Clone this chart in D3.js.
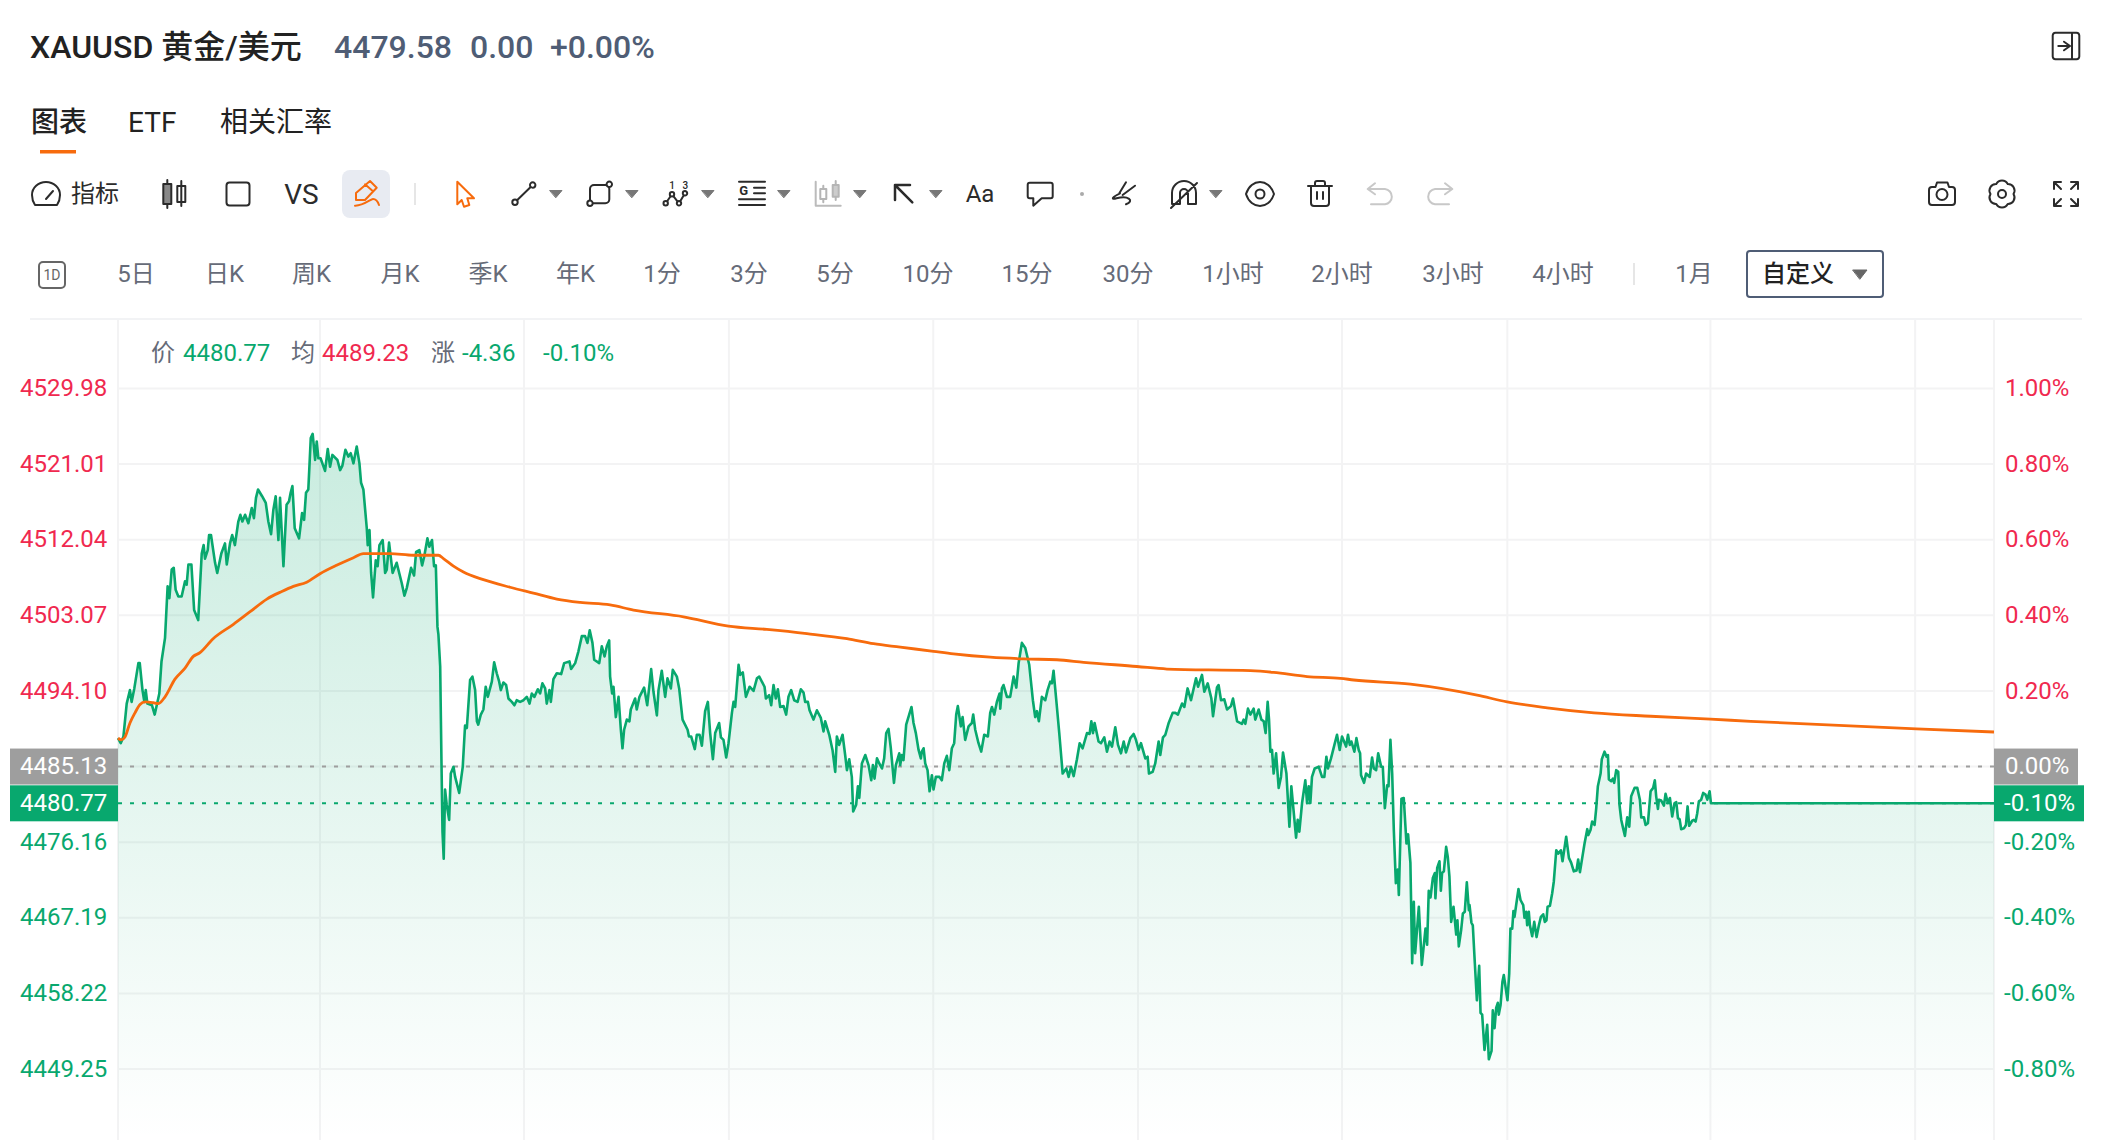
<!DOCTYPE html>
<html>
<head>
<meta charset="utf-8">
<script src="https://cdn.jsdelivr.net/npm/d3@7"></script>
<style>
html, body { margin: 0; padding: 0; background: #fff; }
svg { display: block; }
text { font-family: Roboto, "Noto Sans CJK SC", sans-serif; }
</style>
</head>
<body>
<svg id="chart" width="2112" height="1140"></svg>
<script>
// values
const basePrice = 4485.13
const lastPrice = 4480.77
const priceTicks = [4529.98, 4521.01, 4512.04, 4503.07, 4494.10, 4476.16, 4467.19, 4458.22, 4449.25]
const pctTicks = [1, 0.8, 0.6, 0.4, 0.2, -0.2, -0.4, -0.6, -0.8]
const gridMinutes = [0, 148.6, 298.7, 449.4, 599.7, 750.3, 900.4, 1022, 1171.4, 1322, 1380]

// [minute, price]
const priceTrace = [
  [0,4488.49],[2,4487.9],[4,4488.7],[6.4,4492.6],[8.8,4494.2],[10,4492.8],[12,4494.4],[15,4497.4],[16,4497.4],[18,4494.2],
  [19.4,4492.8],[20.4,4494.2],[21.6,4492.6],[25,4492.4],[27,4491.3],[30.4,4493.8],[32,4497.6],[34.6,4500.4],[36.5,4506.5],[37.8,4505.1],
  [39.5,4508.5],[41,4508.7],[42.4,4506.1],[44.4,4505.3],[46.8,4505.3],[49.3,4507.1],[50.5,4506.7],[51.8,4509.1],[54,4509.1],[56,4503.7],
  [59,4502.5],[61.6,4510.4],[63,4511.4],[64,4509.8],[66,4510.8],[67,4512.6],[68.4,4512.6],[71.4,4509.3],[73,4508.1],[76,4510.4],
  [78.7,4511.6],[80,4509.1],[82.4,4511.6],[84,4512.6],[86,4511.4],[88.5,4514.2],[90,4515],[91.5,4514.2],[93.5,4515],[95.9,4514],
  [98.4,4515.8],[100,4514.6],[101.5,4517],[103,4518],[106,4517.2],[108.7,4516.4],[110.6,4514.2],[112.6,4512.7],[114.3,4515.6],[116,4517.2],
  [118,4512],[119.2,4517],[121.7,4508.9],[124,4516.2],[125.8,4516.6],[127,4517.6],[128.3,4518.4],[130,4513.4],[133.2,4512.2],[135.4,4515.2],
  [136.9,4514.4],[138.3,4517.6],[140,4518],[141.8,4524.1],[143.2,4524.6],[145,4521.5],[146.2,4523.7],[147.4,4521.7],[149,4521.7],[152.3,4520.2],
  [154.3,4522.8],[156,4520.7],[157.7,4522.1],[161.4,4521.5],[163.4,4520.3],[165,4520.8],[167.3,4522.7],[169.5,4521.9],[171.2,4522.3],[173.2,4521.1],
  [175.6,4523.1],[177.6,4521.1],[178.8,4518.8],[180.5,4518],[181.8,4515.6],[183,4513.4],[183.7,4511.4],[185,4513.2],[186.2,4508.1],[187.6,4505.2],
  [189.6,4509.6],[191,4508.9],[192.3,4511.4],[194.7,4512],[196.5,4508.1],[197.7,4508.5],[199.4,4511.7],[202,4508.1],[205,4509.3],[208.7,4506.9],
  [210.7,4505.4],[212.4,4506.3],[215.6,4508.7],[217.8,4507.8],[219.3,4510.6],[221.7,4510.8],[223.7,4509],[225.2,4510],[227.6,4512.2],[229,4511.2],
  [231,4512],[232.5,4508.9],[233.8,4509],[235,4501.7],[235.7,4500.8],[237,4497],[238,4485.1],[238.7,4477.4],[239.6,4474.2],[240.6,4482.4],
  [241.8,4480.6],[243.6,4478.8],[244.8,4484.3],[246.8,4485.1],[248,4483.9],[251,4482],[253.6,4485.1],[255.3,4490],[256.6,4489.7],[259,4495.4],
  [260.7,4495.8],[262.7,4494.2],[264,4490.5],[265,4490.1],[266.9,4491.3],[268.8,4491.9],[270.5,4494.6],[272,4493.4],[275,4495.2],[276.7,4497.5],
  [278.6,4496.2],[280.4,4495.2],[281.6,4494.2],[283.5,4495.1],[285.5,4494.8],[287.2,4493.2],[289.7,4492.8],[291.6,4492.4],[293.3,4493],[295.8,4492.8],
  [298.3,4493],[300.7,4493.4],[302.7,4492.6],[304.4,4493.8],[306.3,4493.4],[308.8,4494.3],[310.5,4493.8],[312.2,4495],[314.2,4494.4],[315.4,4492.6],
  [317.4,4494.2],[318.4,4492.8],[320.3,4495.5],[322.8,4496.2],[326,4496.1],[328.2,4497.4],[332.1,4497.6],[333.3,4496.7],[336.3,4497.4],[338.7,4498.8],
  [341.2,4500.6],[343.6,4500.6],[345.3,4499.8],[347,4501.3],[349,4499.8],[350.3,4497.8],[354,4497.4],[355.9,4499.4],[357.9,4498.2],[359.6,4499.4],
  [361.3,4500.1],[362,4495.8],[363.5,4493.8],[364.5,4494.6],[366.2,4491],[368.2,4493.4],[369.9,4489.5],[371.1,4487.3],[372.3,4489.5],[374.3,4490.7],
  [376.2,4490.5],[377.2,4491.9],[380.4,4493.2],[381.6,4491.9],[383.6,4493.4],[387,4494.5],[389.3,4492.4],[392.2,4496.7],[393.9,4494],[396.4,4491.2],
  [397.6,4494.2],[400,4496.5],[402.5,4493.4],[404.2,4495.6],[406.7,4494.4],[408.1,4496.6],[411.1,4495.8],[412.8,4494.4],[415.3,4490.7],[419,4489.5],
  [420,4488.7],[421.6,4488.7],[424.3,4487.2],[425.8,4488.9],[427.8,4488.9],[429.5,4487.6],[431.9,4491.7],[433.9,4492.8],[435.6,4489.1],[437.6,4486],
  [439.3,4489.1],[442.2,4490.3],[443.5,4488.6],[445.4,4488.3],[447.4,4486.2],[449.1,4487.9],[451.6,4491.5],[452.8,4492.8],[454,4492.2],[456.5,4497.2],
  [457.7,4496],[459.6,4496.3],[461.9,4493.4],[464.6,4494.6],[467.5,4494.1],[470,4495.6],[471.7,4495.8],[475.6,4494.6],[476.6,4493.2],[479,4493.6],
  [480.5,4492.4],[482.2,4494.8],[483.9,4493.2],[485.4,4494.3],[487.1,4492.2],[489.6,4492.3],[491.5,4491.3],[493.2,4493.4],[495.2,4494.2],[497.4,4493],
  [499.9,4492.8],[502.3,4494.3],[504.3,4493.9],[505.5,4492.8],[507.5,4492.8],[508.7,4491.8],[511.6,4490.7],[514.1,4491.8],[517,4490.9],[519,4489.3],
  [520.2,4490.5],[523.2,4488.9],[525.6,4487.1],[527.6,4484.5],[528.8,4488.7],[530.5,4487.7],[533,4488.9],[534.9,4486.5],[536.2,4484.7],[537.9,4486],
  [539.8,4483.9],[540.8,4479.8],[543,4480.6],[544.3,4482.8],[545.3,4481.4],[547.2,4485.5],[549.7,4486.5],[552.1,4485.3],[554.1,4483.5],[555.3,4485.3],
  [556.5,4483.7],[558.3,4486.1],[560,4485.5],[562,4484.9],[563.6,4486.1],[565.1,4489.1],[566.8,4489.6],[568.5,4487.3],[570.8,4483.2],[572.2,4485.3],
  [574.7,4486.7],[575.4,4485.3],[576.6,4486.5],[577.8,4485.9],[579.8,4490.1],[582,4491.3],[583.7,4492.2],[585.2,4490.3],[586.9,4489.1],[588.9,4487.1],
  [590.6,4486.1],[591.3,4486.9],[592.6,4487.3],[593.8,4485.5],[595.5,4484.7],[597,4482.2],[598.7,4484.1],[599.9,4482.4],[601.6,4483.9],[604.3,4483.9],
  [606,4483.5],[607.8,4485.5],[609.7,4486.4],[611.5,4484.7],[613.4,4487.3],[615.1,4487.9],[616.6,4491.3],[617.8,4492.3],[620,4489.9],[621.3,4491],
  [623.2,4488.3],[625.7,4489.9],[628.1,4490.3],[629.1,4491.3],[630.6,4489.5],[633,4487.9],[635,4486.9],[637.2,4488.9],[639.9,4488.7],[641.6,4491.5],
  [642.9,4492.2],[644.6,4491.3],[646.5,4492.8],[648.5,4493.8],[649,4492],[650.2,4494.4],[651.4,4494.8],[653.9,4493.4],[656.3,4493.4],[658.8,4495.8],
  [660.8,4494.5],[662.5,4497.4],[664.9,4499.8],[667.4,4499.2],[670.3,4497.2],[673,4493],[674.7,4491],[676,4491.7],[677.4,4490.5],[679.6,4493.4],
  [682.1,4493],[683.8,4494.2],[685.8,4495.2],[687,4495],[688.2,4496.5],[690.2,4493],[692.4,4489.1],[694.9,4484.3],[697.6,4484.9],[699.3,4483.9],
  [701,4485.1],[703,4484],[705.4,4486],[707.4,4487.9],[709.6,4487.3],[712.8,4489.1],[714.7,4489],[716,4490.5],[717.2,4489.1],[718.4,4490.3],
  [721.3,4488.1],[723.1,4487.9],[725.5,4488.6],[727.5,4486.9],[729.4,4488.1],[731.2,4487.5],[733.6,4489.8],[735.6,4487.7],[737.8,4486.7],[739.8,4488.1],
  [741.5,4486.8],[744.7,4488.5],[747.1,4489],[748.8,4488.3],[750.8,4487.1],[752.5,4487.9],[755.7,4486.1],[757.4,4486.3],[758.4,4484.3],[761.1,4484.5],
  [763,4485.5],[765.5,4488.1],[766.7,4486.5],[768.7,4488.6],[770.4,4488.9],[772.9,4490.3],[775.8,4491.5],[777.8,4491.5],[779.7,4491.3],[782.7,4492.6],
  [784.4,4492.2],[786.8,4494.4],[789.3,4493],[793,4495.6],[794.5,4494.6],[797.4,4496],[799.1,4494],[801.6,4495],[804.3,4493.2],[805.5,4491.1],
  [808.4,4494.5],[809.6,4494.8],[811.4,4493],[813.8,4493.1],[815.8,4491.9],[818.7,4492.3],[820.2,4493.2],[823.2,4490.5],[826.8,4490.2],[828,4490.7],
  [829.3,4490.2],[831.2,4492],[833,4491.3],[835.4,4492],[836.6,4490.7],[839.1,4491.9],[841.1,4490.7],[842.8,4490.5],[844.2,4489.1],[845.7,4492.8],
  [846.7,4490.7],[847.7,4486.9],[848.9,4487.1],[850.1,4484.3],[851.9,4486.7],[853.8,4482.6],[855.5,4483.9],[857,4486.8],[859.5,4484.3],[861.7,4478],
  [863.1,4482.8],[866.6,4476.7],[867.8,4478.8],[869,4477.4],[871,4480.8],[873.4,4483.5],[874.7,4480.8],[875.9,4482.8],[877.1,4480.8],[878.3,4483.9],
  [880.3,4484.9],[883.3,4485.1],[885.7,4483.9],[887.4,4483.9],[888.9,4486.3],[890.1,4484.9],[892.3,4486.1],[894.8,4487.7],[896.7,4488.9],[898.7,4487.1],
  [900.4,4488.7],[903.4,4487.5],[904.8,4488.9],[906.1,4487.7],[907.3,4488.1],[909.5,4486.9],[911,4488.5],[912.7,4487.1],[913.7,4486.7],[914.4,4484.1],
  [916.6,4483.2],[918.1,4484.3],[920.8,4483.9],[922.5,4486.2],[923.8,4484.9],[925.5,4484.7],[927,4486.7],[929.2,4485.1],[930.4,4485.1],[931.9,4480.2],
  [933.6,4482.9],[934.6,4482.8],[936,4488.3],[937.3,4484.3],[938.5,4477.6],[940,4471.3],[941.4,4472.9],[942.2,4469.9],[944.1,4481.3],[945.8,4481.4],
  [947.8,4476],[949,4477.1],[950.7,4473.7],[952,4461.8],[953.2,4469.1],[954.2,4463],[956.9,4468.5],[959.1,4461.6],[961.8,4465.9],[963,4464],
  [964.2,4470.4],[965.5,4469.6],[967.2,4471.9],[968.7,4472.5],[969.1,4469.5],[970.4,4473.1],[972.1,4473.9],[973.1,4470.4],[974,4472.5],[975.3,4472.7],
  [977,4475.6],[978.2,4474.4],[979.4,4472.1],[980.7,4466.7],[982.4,4468.5],[984.4,4465.2],[985.3,4466.9],[986.3,4463.8],[988,4465.7],[989.3,4467.7],
  [990.7,4467.9],[992.2,4471.4],[993.7,4468.1],[994.2,4468.7],[995.6,4466.6],[996.6,4466.3],[998.1,4461.8],[999.6,4457.4],[1001.3,4461.5],[1002.3,4455.9],
  [1003.5,4455.7],[1005.2,4451.5],[1007.2,4454.5],[1008.4,4450.4],[1010.4,4451.4],[1011.3,4456.2],[1012.6,4454.1],[1013.8,4456.5],[1015,4457.1],[1015.7,4455.7],
  [1017,4456.8],[1018.4,4459.6],[1019.4,4460.4],[1022.1,4457.4],[1023.4,4460.6],[1024.3,4465.9],[1025.6,4465.9],[1026.5,4468],[1027.3,4467.3],[1028.5,4468.7],
  [1030.2,4470.6],[1031.7,4469.3],[1033.7,4468.7],[1034.6,4467.2],[1035.9,4467.9],[1036.6,4466.3],[1037.8,4467.9],[1038.6,4466.3],[1040.3,4465],[1041.8,4466.7],
  [1043.5,4464.9],[1045.2,4466.3],[1046.7,4467.3],[1048.4,4467.6],[1049.6,4466.7],[1050.8,4466.9],[1051.6,4468.5],[1053.3,4468.6],[1055,4470.1],[1056.2,4471.5],
  [1058,4475.2],[1059.4,4474.8],[1061.4,4475.2],[1062.6,4473.9],[1065.3,4476.8],[1067.3,4474.3],[1069,4473.7],[1070.9,4472.7],[1072.9,4472.8],[1074.1,4474.1],
  [1075.4,4472.6],[1077.1,4474.3],[1078.8,4476],[1080.8,4477.7],[1081.5,4477],[1083.2,4477.6],[1084.4,4478.6],[1086.2,4478.2],[1087.4,4480.2],[1088.6,4482.8],
  [1090.6,4484.3],[1091.5,4486],[1093.5,4486.9],[1095,4486.3],[1096,4486.5],[1096.7,4483.6],[1098.4,4483.4],[1099.6,4483.7],[1100.6,4483.2],[1102.1,4484.7],
  [1103.6,4484.5],[1104.5,4480.6],[1105.8,4478.8],[1107.2,4477.8],[1108.5,4476.9],[1110.2,4479.1],[1111.7,4478],[1113.1,4481.6],[1115.6,4482.6],[1117.6,4482.6],
  [1119.5,4481.2],[1120.5,4479.1],[1122.5,4479.1],[1123.7,4478.2],[1125.4,4478.4],[1127.4,4482.2],[1129.3,4482.6],[1130.5,4483.5],[1131.5,4481.6],[1132.8,4480.1],
  [1133.5,4481.2],[1135.2,4481.1],[1137.2,4480.5],[1138.4,4481.9],[1140.1,4480.8],[1141.6,4481.4],[1143.3,4479.2],[1145,4480.8],[1146.3,4480.9],[1147.5,4479],
  [1148.7,4478.9],[1149.9,4477.7],[1151.9,4477.8],[1153.4,4478.2],[1154.6,4480.4],[1155.8,4478.1],[1158,4478.7],[1159.2,4478.8],[1160.5,4478.6],[1161.7,4479.6],
  [1162.9,4481],[1164.6,4481.2],[1166.1,4482],[1167.8,4481.8],[1169.1,4481.2],[1170.8,4482.2],[1171.8,4480.77],[1380,4480.77]
]

// [minute, average price]
const avgTrace = [
  [0,4488.49],[2.5,4488.3],[5,4488.6],[8.8,4490.3],[12.5,4491.5],[16.2,4492.5],[19.9,4492.8],[26,4492.7],[29.7,4492.6],[34.6,4493.4],
  [41.9,4495.5],[49.3,4496.8],[55.4,4498.2],[59.9,4498.6],[70,4500.3],[84.9,4502],[97.2,4503.5],[109.5,4505],[120.5,4505.9],[129,4506.5],
  [138.8,4507],[148.6,4508],[160.8,4509],[173.2,4509.9],[180.5,4510.4],[200.1,4510.4],[217.3,4510.2],[235.7,4510.2],[239.4,4509.8],[246.8,4508.9],
  [254.1,4508.2],[268.8,4507.3],[288.4,4506.4],[305.6,4505.7],[322.8,4505],[340,4504.6],[362,4504.3],[379.2,4503.7],[416,4502.9],[449.1,4501.8],
  [477.3,4501.4],[506.8,4500.9],[536.2,4500.3],[555.8,4499.7],[575.5,4499.3],[599.9,4498.8],[614.6,4498.5],[641.6,4498.1],[666.2,4497.9],[690.7,4497.8],
  [710.3,4497.5],[749.6,4497],[771.6,4496.7],[833,4496.5],[850.1,4496.3],[874.7,4495.8],[899.2,4495.6],[909,4495.4],[950.7,4494.9],[999.8,4493.6],
  [1021.9,4492.8],[1051.3,4492.1],[1085.7,4491.5],[1127.4,4491.1],[1171.5,4490.75],[1201,4490.5],[1323,4489.6],[1380,4489.23]
]

// page text
const tabLabels = ["图表", "ETF", "相关汇率"]
const tabX = [31, 128, 220]
const periodLabels = ["5日", "日K", "周K", "月K", "季K", "年K", "1分", "3分", "5分", "10分", "15分", "30分", "1小时", "2小时", "3小时", "4小时", "1月"]
const periodX = [136, 224.5, 311.5, 400, 488, 575.5, 662, 749, 835, 928, 1027, 1128, 1233, 1342, 1453, 1563, 1694]

const green = "#08a86e", red = "#f0294f", orange = "#f76b0d", slate = "#4f5d75", ink = "#222", iconGrey = "#2b2b2b"
const chartBottom = 1140

const svg = d3.select("#chart")

// scales
const x = d3.scaleLinear().domain([0, 1380]).range([118, 1994])
const y = d3.scaleLinear().domain([4449.25, 4529.98]).range([1069, 388.5])
const yPct = d3.scaleLinear().domain([-0.8, 1]).range([1069, 388.5])

function label(txt, px, py, size, color, opts) {
    opts = opts || {}
    return svg.append("text").text(txt)
        .attr("x", px).attr("y", py)
        .attr("font-size", size)
        .attr("fill", color)
        .attr("font-weight", opts.weight || 400)
        .attr("text-anchor", opts.anchor || "start")
        .attr("dominant-baseline", "central")
}

// header
label("XAUUSD 黄金/美元", 30, 47, 32, ink, { weight: 500 })
label("4479.58", 334, 47, 32, slate, { weight: 500 })
label("0.00", 470, 47, 32, slate, { weight: 500 })
label("+0.00%", 550, 47, 32, slate, { weight: 500 })

tabLabels.forEach((t, i) => label(t, tabX[i], 122, 28, ink, { weight: i == 0 ? 500 : 400 }))
svg.append("rect").attr("x", 40).attr("y", 150).attr("width", 36).attr("height", 3.5).attr("fill", orange)

// toolbar icons
function icon(cx, cy, d, color, fill, w) {
    svg.append("path").attr("transform", `translate(${cx},${cy})`)
        .attr("d", d)
        .attr("fill", fill || "none")
        .attr("stroke", color || iconGrey)
        .attr("stroke-width", w || 2)
        .attr("stroke-linejoin", "round")
        .attr("stroke-linecap", "round")
}
function caret(cx) { icon(cx, 194, "M-6,-3.5L6,-3.5L0,3.5Z", "#777", "#777", 1) }
const nodeDot = (cx, cy, r) => `M${cx - r},${cy}a${r},${r} 0 1 1 ${2 * r},0a${r},${r} 0 1 1 ${-2 * r},0Z`

svg.append("rect").attr("x", 342).attr("y", 170).attr("width", 48).attr("height", 48).attr("rx", 8).attr("fill", "#e8ebf2")
svg.append("line").attr("x1", 415).attr("x2", 415).attr("y1", 183).attr("y2", 205).attr("stroke", "#e6e6e6").attr("stroke-width", 2)

icon(46, 194, "M-11,11H11C13,8 14,4 14,1A14,13 0 1 0 -14,1C-14,5 -13,8 -11,11ZM0,5L7,-3", iconGrey)
label("指标", 71, 194, 24, iconGrey)
icon(173, 194, "M-5.7,-14V14", iconGrey); icon(173, 194, "M-9.7,-10H-1.7V10H-9.7Z", iconGrey, "#888")
icon(173, 194, "M8.3,-13V12M4.3,-8H12.3V8H4.3Z", iconGrey, "#fff")
icon(238, 194, "M-8.5,-11.5H8.5A3,3 0 0 1 11.5,-8.5V8.5A3,3 0 0 1 8.5,11.5H-8.5A3,3 0 0 1 -11.5,8.5V-8.5A3,3 0 0 1 -8.5,-11.5Z", iconGrey)
label("VS", 301.5, 194, 28, iconGrey, { anchor: "middle" })
icon(366, 194, "M-10,-1L4,-13L10.7,-6.3L-1,6H-10ZM-1,-9.7L6.7,-3M-11,11.7C-3,12 5,5 7,5C10,5 12,8 13,11", orange)
icon(465, 194, "M-7.7,-12.3L9,4.3H2.3L4.3,11L-1,12.7L-3.3,6L-7.7,10.3Z", orange)
icon(523, 194, "M-8,8.3L9.7,-9", iconGrey); icon(523, 194, nodeDot(-8, 8.3, 2.7) + nodeDot(9.7, -9, 2.7), iconGrey, "#fff")
caret(556)
icon(600, 194, "M-6,-9H5.3A4,4 0 0 1 9.3,-5V5.3A4,4 0 0 1 5.3,9.3H-10V-5A4,4 0 0 1 -6,-9Z", iconGrey); icon(600, 194, nodeDot(-10, 9.3, 2.7) + nodeDot(9.3, -9.7, 2.7), iconGrey, "#fff")
caret(632)
icon(675, 194, "M-9.3,9.3L-3,0.3L4,9.3L10,-0.7", iconGrey)
icon(675, 194, nodeDot(-9.3, 9.3, 2.2) + nodeDot(-3, 0.3, 2.2) + nodeDot(4, 9.3, 2.2) + nodeDot(10, -0.7, 2.2), iconGrey, "#fff")
label("1", 672, 185, 10, iconGrey, { anchor: "middle", weight: 500 }); label("3", 685.3, 185, 10, iconGrey, { anchor: "middle", weight: 500 })
caret(708)
icon(752, 194, "M-13,-12.3H13M2,-6.3H13M2,-0.7H13M-13,5.3H13M-13,11H13", iconGrey)
label("G", 743.7, 190.5, 13, iconGrey, { anchor: "middle", weight: 700 })
caret(784)
icon(828, 194, "M-12.3,-12.3V11.7H12.7", "#bbb"); icon(828, 194, "M-4.7,-8.3V8.3M7.7,-13V6", "#b5b5b5")
icon(828, 194, "M-7.7,-5H-1.7V5H-7.7Z", "#b5b5b5", "#fff"); icon(828, 194, "M4.7,-9H10.7V2.7H4.7Z", "#b5b5b5", "#ccc")
caret(860)
icon(903, 194, "M-8,6V-9H7M-8,-9L9.3,8.3", iconGrey, null, 2.5)
caret(936)
label("Aa", 980, 194, 24, iconGrey, { anchor: "middle" })
icon(1039, 194, "M-9.3,-11.3H11.7A2,2 0 0 1 13.7,-9.3V2.3A2,2 0 0 1 11.7,4.3H2.7L-5.7,11.7V4.3H-9.3A2,2 0 0 1 -11.3,2.3V-9.3A2,2 0 0 1 -9.3,-11.3Z", iconGrey)
svg.append("circle").attr("cx", 1082).attr("cy", 194).attr("r", 2).attr("fill", "#aaa")
icon(1122.3, 194, "M3.7,-11.7L-3,-0.7M12.7,-8.3L0.3,1M-2.3,-0.7C-10,3 -12,6 -5.7,4.3C6,1 12.7,7 3.7,10.3", iconGrey)
icon(1184, 194, "M-12,10V-1A12,12 0 0 1 12,-1V10H4V-1A4,4 0 0 0 -4,-1V10ZM-13,14L13,-11", iconGrey)
caret(1216)
icon(1260, 194, "M-14,0C-9,-16 9,-16 14,0C9,16 -9,16 -14,0ZM-4.5,0A4.5,4.5 0 1 1 4.5,0A4.5,4.5 0 1 1 -4.5,0Z", iconGrey)
icon(1320, 194, "M-12,-8H12M-5,-8V-11Q-5,-13 -3,-13H3Q5,-13 5,-11V-8M-9,-8V9Q-9,12 -6,12H6Q9,12 9,9V-8M-3,-2V5M3,-2V5", iconGrey)
icon(1380, 194, "M-12.3,-5L-5,-10.7M-12.3,-5L-5,0.3M-12.3,-5H5A7.7,7.7 0 0 1 5,10.3H-9", "#c8c8c8")
icon(1440, 194, "M12.3,-5L5,-10.7M12.3,-5L5,0.3M12.3,-5H-5A7.7,7.7 0 0 0 -5,10.3H9", "#c8c8c8")
icon(1942, 194, "M-10,-7H-6.5L-5,-11.5H5.5L7,-7H10A3,3 0 0 1 13,-4V8A3,3 0 0 1 10,11H-10A3,3 0 0 1 -13,8V-4A3,3 0 0 1 -10,-7ZM-5.5,0.5A5.5,5.5 0 1 1 5.5,0.5A5.5,5.5 0 1 1 -5.5,0.5Z", iconGrey)
icon(2002, 194, "M-5.75,-9.96A6.5,6.5 0 0 1 5.75,-9.96A6.5,6.5 0 0 1 11.5,0A6.5,6.5 0 0 1 5.75,9.96A6.5,6.5 0 0 1 -5.75,9.96A6.5,6.5 0 0 1 -11.5,0A6.5,6.5 0 0 1 -5.75,-9.96ZM-4,0A4,4 0 1 1 4,0A4,4 0 1 1 -4,0Z", iconGrey)
icon(2066, 194, "M-12,-5V-12H-5M-12,-12L-5,-5M12,-5V-12H5M12,-12L5,-5M-12,5V12H-5M-12,12L-5,5M12,5V12H5M12,12L5,5", iconGrey)
icon(2066, 46, "M-10.5,-13.3H10.5A3,3 0 0 1 13.3,-10.5V10.5A3,3 0 0 1 10.5,13.3H-10.5A3,3 0 0 1 -13.3,10.5V-10.5A3,3 0 0 1 -10.5,-13.3ZM6,-13.3V13.3M-7.7,0H4M-2,-4.3L4,0L-2,4.3", iconGrey)

// period row
svg.append("rect").attr("x", 39).attr("y", 262).attr("width", 26).attr("height", 26).attr("rx", 4)
    .attr("fill", "none").attr("stroke", "#666").attr("stroke-width", 2)
label("1D", 52, 275, 14, "#666", { anchor: "middle" })
periodLabels.forEach((t, i) => label(t, periodX[i], 274, 24, "#666b78", { anchor: "middle" }))
svg.append("line").attr("x1", 1634).attr("x2", 1634).attr("y1", 263).attr("y2", 285).attr("stroke", "#e6e6e6").attr("stroke-width", 2)
svg.append("rect").attr("x", 1747).attr("y", 251).attr("width", 136).attr("height", 46).attr("rx", 3)
    .attr("fill", "#fff").attr("stroke", slate).attr("stroke-width", 2)
label("自定义", 1762, 274, 24, ink, { weight: 500 })
icon(1860, 274, "M-7,-4L7,-4L0,5Z", "#666", "#666", 1)
svg.append("line").attr("x1", 30).attr("x2", 2082).attr("y1", 319).attr("y2", 319).attr("stroke", "#f2f3f5").attr("stroke-width", 2)

// grid
const grid = svg.append("g").attr("stroke", "#f3f3f4").attr("stroke-width", 2)
grid.selectAll(".v").data(gridMinutes).join("line")
    .attr("x1", d => x(d)).attr("x2", d => x(d))
    .attr("y1", 320).attr("y2", chartBottom)
grid.selectAll(".h").data(priceTicks.concat([basePrice])).join("line")
    .attr("x1", x(0)).attr("x2", x(1380))
    .attr("y1", d => y(d)).attr("y2", d => y(d))

// area fill
const defs = svg.append("defs")
const grad = defs.append("linearGradient").attr("id", "areaFill")
    .attr("gradientUnits", "userSpaceOnUse")
    .attr("x1", 0).attr("x2", 0).attr("y1", y(d3.max(priceTrace, d => d[1]))).attr("y2", chartBottom)
grad.append("stop").attr("offset", 0).attr("stop-color", green).attr("stop-opacity", 0.22)
grad.append("stop").attr("offset", 1).attr("stop-color", green).attr("stop-opacity", 0)

svg.append("path").datum(priceTrace)
    .attr("fill", "url(#areaFill)")
    .attr("d", d3.area().x(d => x(d[0])).y0(chartBottom).y1(d => y(d[1])))

// reference lines
svg.append("line").attr("x1", x(0)).attr("x2", x(1380)).attr("y1", y(basePrice)).attr("y2", y(basePrice))
    .attr("stroke", "#9e9e9e").attr("stroke-width", 2).attr("stroke-dasharray", "4 8")
svg.append("line").attr("x1", x(0)).attr("x2", x(1380)).attr("y1", y(lastPrice)).attr("y2", y(lastPrice))
    .attr("stroke", green).attr("stroke-width", 2).attr("stroke-dasharray", "4 8")

// price and average lines
svg.append("path").datum(priceTrace)
    .attr("fill", "none").attr("stroke", green).attr("stroke-width", 2.6).attr("stroke-linejoin", "round")
    .attr("d", d3.line().x(d => x(d[0])).y(d => y(d[1])))
svg.append("path").datum(avgTrace)
    .attr("fill", "none").attr("stroke", orange).attr("stroke-width", 2.8).attr("stroke-linejoin", "round")
    .attr("d", d3.line().curve(d3.curveMonotoneX).x(d => x(d[0])).y(d => y(d[1])))

// axes
const leftAxis = d3.axisLeft(y).tickValues(priceTicks).tickSize(0).tickFormat(d3.format(".2f"))
const gl = svg.append("g").attr("transform", "translate(118,0)").call(leftAxis)
gl.select(".domain").remove()
gl.selectAll("text")
    .attr("x", -98).attr("dy", ".3em").attr("text-anchor", "start")
    .attr("font-size", 24).attr("font-family", "Roboto")
    .attr("fill", d => d > basePrice ? red : green)

const rightAxis = d3.axisRight(yPct).tickValues(pctTicks).tickSize(0).tickFormat(d => d.toFixed(2) + "%")
const gr = svg.append("g").attr("transform", "translate(1994,0)").call(rightAxis)
gr.select(".domain").remove()
gr.selectAll("text")
    .attr("x", d => d > 0 ? 11 : 10).attr("dy", ".3em").attr("text-anchor", "start")
    .attr("font-size", 24).attr("font-family", "Roboto")
    .attr("fill", d => d > 0 ? red : green)

// price tags
function tag(px, w, py, color, txt, tx) {
    svg.append("rect").attr("x", px).attr("y", py - 18).attr("width", w).attr("height", 36).attr("fill", color)
    label(txt, tx, py - 0.3, 24, "#fff")
}
tag(10, 108, y(basePrice), "#9e9e9e", basePrice.toFixed(2), 20)
tag(10, 108, y(lastPrice), green, lastPrice.toFixed(2), 20)
tag(1994, 84, y(basePrice), "#9e9e9e", "0.00%", 2005)
tag(1994, 90, y(lastPrice), green, "-0.10%", 2004)

// hover info row
label("价", 151, 353, 24, "#666b78")
label("4480.77", 183, 353, 24, green)
label("均", 291, 353, 24, "#666b78")
label("4489.23", 322, 353, 24, red)
label("涨", 431, 353, 24, "#666b78")
label("-4.36", 462, 353, 24, green)
label("-0.10%", 543, 353, 24, green)
</script>
</body>
</html>
